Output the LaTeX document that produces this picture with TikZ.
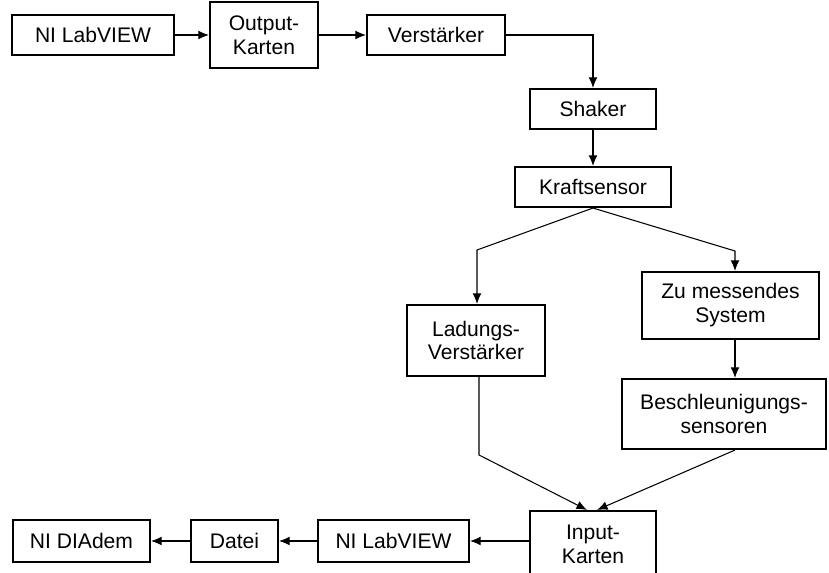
\documentclass[tikz,border=0pt]{standalone}
\usepackage{fontspec}
\setmainfont{Liberation Sans}
\usetikzlibrary{arrows.meta}

\begin{document}
\begin{tikzpicture}[x = 0.02cm, y = -0.02cm, line join = miter,
  block/.style 2 args = {draw, line width = 1.2pt, inner sep = 0pt, align = center,
    minimum width = #1, minimum height = #2, font = \fontsize{12}{13.6}\selectfont},
  conn/.style = {line width = 0.6pt, -{Latex[length = 6pt, width = 5pt]}}]
  \useasboundingbox (0, 0) rectangle (829, 573);

  % top row
  \node[block = {3.24cm}{0.8cm}] (lvout) at (93, 35) {NI LabVIEW};
  \node[block = {2.16cm}{1.32cm}] (outk) at (264, 35) {Output-\\Karten};
  \node[block = {2.76cm}{0.8cm}] (verst) at (436, 35) {Verstärker};

  \node[block = {2.52cm}{0.8cm}] (shaker) at (593, 109) {Shaker};
  \node[block = {3.12cm}{0.8cm}] (kraft) at (593, 187) {Kraftsensor};

  \node[block = {2.76cm}{1.42cm}] (ladung) at (476, 340.5) {Ladungs-\\Verstärker};
  \node[block = {3.54cm}{1.34cm}] (system) at (730.5, 305.5) {Zu messendes\\System};
  \node[block = {4.08cm}{1.4cm}] (beschl) at (724, 414) {Beschleunigungs-\\sensoren};

  % bottom row
  \node[block = {2.52cm}{1.32cm}] (input) at (593, 544) {Input-\\Karten};
  \node[block = {3.02cm}{0.84cm}] (lvin) at (393.5, 541) {NI LabVIEW};
  \node[block = {1.74cm}{0.84cm}] (datei) at (234.5, 541) {Datei};
  \node[block = {2.74cm}{0.84cm}] (diadem) at (81.5, 541) {NI DIAdem};

  \coordinate (kl) at (477, 250);
  \coordinate (kr) at (735, 251);
  \coordinate (lb) at (479, 455);

  \draw[conn] (lvout) -- (outk);
  \draw[conn] (outk) -- (verst);
  \draw[conn] (verst.east) -| (shaker.north);
  \draw[conn] (shaker) -- (kraft);

  \draw[conn] (kraft.south) -- (kl) -- (kl |- ladung.north);
  \draw[conn] (kraft.south) -- (kr) -- (kr |- system.north);
  \draw[conn] (kr |- system.south) -- (kr |- beschl.north);

  \draw[conn] (lb |- ladung.south) -- (lb) -- ([xshift = -0.12cm]input.north);
  \draw[conn] (kr |- beschl.south) -- ([xshift = 0.08cm]input.north);

  \draw[conn] (input.west |- lvin) -- (lvin);
  \draw[conn] (lvin) -- (datei);
  \draw[conn] (datei) -- (diadem);
\end{tikzpicture}
\end{document}
